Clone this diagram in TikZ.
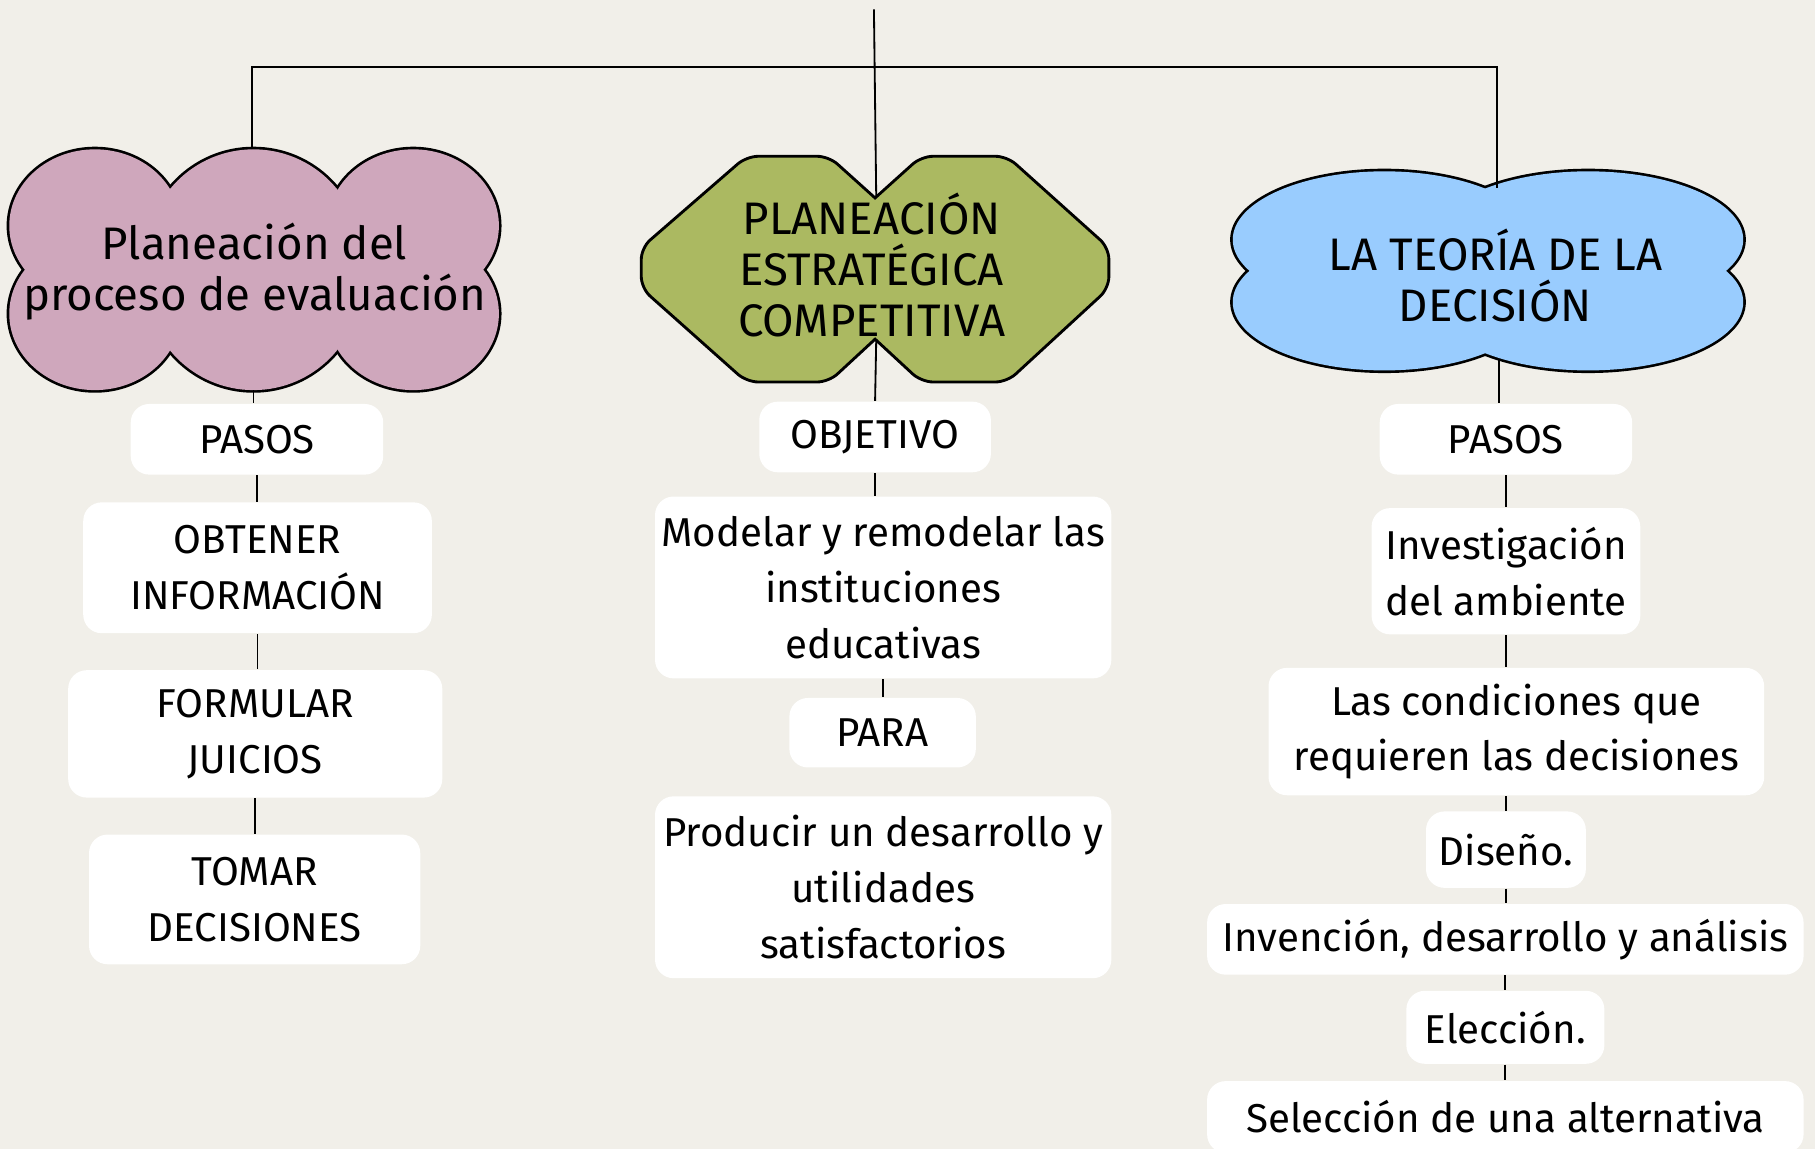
\documentclass[tikz,border=0pt]{standalone}
\usepackage{fontspec}
\setmainfont{Fira Sans}
\usepackage{tikz}
\definecolor{hintergrund}{HTML}{F1EFE9}
\definecolor{rosa}{HTML}{CFA7BC}
\definecolor{oliv}{HTML}{ABB961}
\definecolor{himmel}{HTML}{99CCFE}
\tikzset{
	kasten/.style={fill=white, rounded corners=1.6mm, align=center, inner sep=0pt, font=\fontsize{9.9}{13.7}\selectfont},
	kopf/.style={align=center, inner sep=0pt, font=\fontsize{11.2}{12.5}\selectfont},
	umriss/.style={draw=black, line width=1.3pt},
	linie/.style={line width=0.45pt}
}

\begin{document}
\begin{tikzpicture}[x=0.01cm, y=0.01cm]
	% Hintergrund
	\useasboundingbox (0,0) rectangle (1568,-993);
	\clip (0,0) rectangle (1568,-993);
	\fill [hintergrund] (0,0) rectangle (1568,-993);
	% Wolke links (Vereinigung von Ellipsen)
	\foreach \mx/\my/\rx/\ry in {82/195/74/66, 82/271/74/66, 357/195/74/66, 357/271/74/66, 219/222/93/93, 219/244/93/93}
		\draw [umriss, fill=rosa] (\mx,-\my) ellipse [x radius=\rx, y radius=\ry];
	\foreach \mx/\my/\rx/\ry in {82/195/74/66, 82/271/74/66, 357/195/74/66, 357/271/74/66, 219/222/93/93, 219/244/93/93}
		\fill [rosa] (\mx,-\my) ellipse [x radius=\rx, y radius=\ry];
	% Doppel-Achteck Mitte
	\draw [draw=black, line width=0.7pt, fill=oliv, rounded corners=1mm] (645,-135) -- (716,-135) [sharp corners] -- (756,-171) [rounded corners=1mm] -- (796,-135) -- (870,-135) -- (958,-214) -- (958,-249) -- (870,-330) -- (796,-330) [sharp corners] -- (756,-293) [rounded corners=1mm] -- (716,-330) -- (645,-330) -- (554,-249) -- (554,-214) -- cycle;
	% Wolke rechts
	\foreach \mx/\my/\rx/\ry in {1196/207/131/59, 1372/207/134/59, 1196/261/131/59, 1372/261/134/59}
		\draw [umriss, fill=himmel] (\mx,-\my) ellipse [x radius=\rx, y radius=\ry];
	\foreach \mx/\my/\rx/\ry in {1196/207/131/59, 1372/207/134/59, 1196/261/131/59, 1372/261/134/59}
		\fill [himmel] (\mx,-\my) ellipse [x radius=\rx, y radius=\ry];

	% Ueberschriften
	\node [kopf] (planeacion) at (220,-235) {Planeación del\\proceso de evaluación};
	\node [kopf] (estrategica) at (753,-229) {PLANEACIÓN\\ESTRATÉGICA\\COMPETITIVA};
	\node [kopf] (teoria) at (1292,-238) {LA TEORÍA DE LA\\DECISIÓN};

	% Anschlusspunkte
	\coordinate (oben) at (755,-8);
	\coordinate (kerbeO) at (757,-171);
	\coordinate (kerbeU) at (757,-293);
	\coordinate (ecke1) at (218,-58);
	\coordinate (ecke3) at (1293,-58);
	\coordinate (wolkeAoben) at (218,-129);
	\coordinate (wolkeAunten) at (219,-337);
	\coordinate (wolkeCoben) at (1293,-162);
	\coordinate (wolkeCunten) at (1295,-310);

	% Kaesten links
	\node [kasten, minimum width=2.18cm, minimum height=.61cm] (pasosA) at (222,-379.5) {PASOS};
	\node [kasten, minimum width=3.01cm, minimum height=1.13cm] (obtener) at (222.5,-490.5) {OBTENER\\INFORMACIÓN};
	\node [kasten, minimum width=3.23cm, minimum height=1.10cm] (formular) at (220.5,-634) {FORMULAR\\JUICIOS};
	\node [kasten, minimum width=2.86cm, minimum height=1.12cm] (tomar) at (220,-777) {TOMAR\\DECISIONES};
	% Kaesten Mitte
	\node [kasten, minimum width=2.00cm, minimum height=.61cm] (objetivo) at (756,-377.5) {OBJETIVO};
	\node [kasten, minimum width=3.94cm, minimum height=1.57cm] (modelar) at (763,-507.5) {Modelar y remodelar las\\instituciones\\educativas};
	\node [kasten, minimum width=1.61cm, minimum height=.60cm] (para) at (762.5,-633) {PARA};
	\node [kasten, minimum width=3.94cm, minimum height=1.57cm] (producir) at (763,-766.5) {Producir un desarrollo y\\utilidades\\satisfactorios};
	% Kaesten rechts
	\node [kasten, minimum width=2.18cm, minimum height=.61cm] (pasosC) at (1301,-379.5) {PASOS};
	\node [kasten, minimum width=2.32cm, minimum height=1.09cm] (investigacion) at (1301,-493.5) {Investigación\\del ambiente};
	\node [kasten, minimum width=4.28cm, minimum height=1.10cm] (condiciones) at (1310,-632) {Las condiciones que\\requieren las decisiones};
	\node [kasten, minimum width=1.38cm, minimum height=.66cm] (diseno) at (1301,-734) {Diseño.};
	\node [kasten, minimum width=5.15cm, minimum height=.61cm] (invencion) at (1300.5,-811.5) {Invención, desarrollo y análisis};
	\node [kasten, minimum width=1.71cm, minimum height=.63cm] (eleccion) at (1300.5,-887.5) {Elección.};
	\node [kasten, minimum width=5.15cm, minimum height=.62cm] (seleccion) at (1300.5,-965) {Selección de una alternativa};

	% Verbindungen oben
	\draw [linie] (oben) -- (kerbeO);
	\draw [linie] (wolkeAoben) -- (ecke1) -- (ecke3) -- (wolkeCoben);
	% Verbindungen links
	\draw [linie] (wolkeAunten) -- (wolkeAunten |- pasosA.north);
	\draw [linie] (pasosA.south) -- (pasosA.south |- obtener.north);
	\draw [linie] (obtener.south) -- (obtener.south |- formular.north);
	\draw [linie] (formular.south) -- (formular.south |- tomar.north);
	% Verbindungen Mitte
	\draw [linie] (kerbeU) -- (objetivo.north);
	\draw [linie] (objetivo.south) -- (objetivo.south |- modelar.north);
	\draw [linie] (para.north |- modelar.south) -- (para.north);
	% Verbindungen rechts
	\draw [linie] (wolkeCunten) -- (wolkeCunten |- pasosC.north);
	\draw [linie] (pasosC.south) -- (investigacion.north);
	\draw [linie] (investigacion.south) -- (investigacion.south |- condiciones.north);
	\draw [linie] (diseno.north |- condiciones.south) -- (diseno.north);
	\draw [linie] (diseno.south) -- (diseno.south |- invencion.north);
	\draw [linie] (eleccion.north |- invencion.south) -- (eleccion.north);
	\draw [linie] (eleccion.south) -- (eleccion.south |- seleccion.north);
\end{tikzpicture}
\end{document}
